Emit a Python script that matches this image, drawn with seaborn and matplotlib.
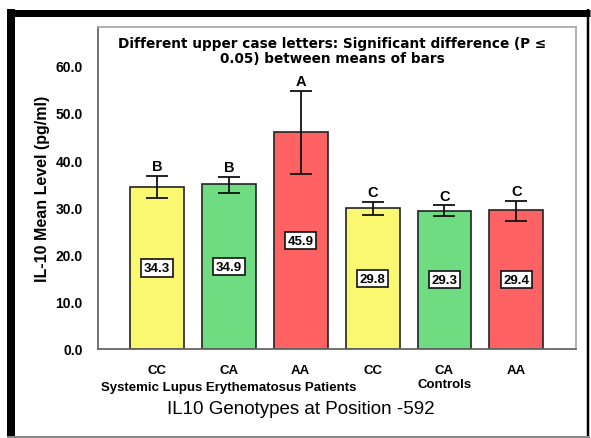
import matplotlib
matplotlib.use("Agg")
import matplotlib.pyplot as plt
import seaborn as sns
import pandas as pd
import numpy as np
from matplotlib.lines import Line2D

# ---- data ----
genotypes = ["CC", "CA", "AA", "CC", "CA", "AA"]
groups = ["Systemic Lupus Erythematosus Patients", "Controls"]
means = [34.3, 34.9, 45.9, 29.8, 29.3, 29.4]
err_low = [31.9, 33.1, 37.0, 28.4, 28.1, 27.2]
err_high = [36.7, 36.5, 54.7, 31.1, 30.4, 31.4]
letters = ["B", "B", "A", "C", "C", "C"]
yticks = [0.0, 10.0, 20.0, 30.0, 40.0, 50.0, 60.0]
colors = ["#FAF870", "#70DC82", "#FF6262", "#FAF870", "#70DC82", "#FF6262"]

sns.set_style("white")
plt.rcParams['font.family'] = ['Liberation Sans', 'DejaVu Sans']
plt.rcParams['text.color'] = 'black'
plt.rcParams['axes.labelcolor'] = 'black'
plt.rcParams['xtick.labelcolor'] = 'black'
plt.rcParams['ytick.labelcolor'] = 'black'

W, H = 591, 439
fig = plt.figure(figsize=(W / 100, H / 100), dpi=100)
ax = fig.add_axes([98 / W, 1 - 350 / H, (576 - 98) / W, (350 - 28) / H])

df = pd.DataFrame({"pos": [str(i) for i in range(len(means))], "mean": means})
sns.barplot(data=df, x="pos", y="mean", hue="pos", palette=colors, legend=False,
            width=0.75, edgecolor="#222222", linewidth=1.2, ax=ax, errorbar=None,
            saturation=1)

x = np.arange(len(means))
m = np.array(means)
lo = m - np.array(err_low)
hi = np.array(err_high) - m
ax.errorbar(x, m, yerr=[lo, hi], fmt="none", ecolor="#111111", elinewidth=1.3,
            capsize=8, capthick=1.3, zorder=5)

for xi, mv, eh, let in zip(x, means, err_high, letters):
    ax.text(xi, eh + 0.6, let, ha="center", va="bottom", fontsize=10.5,
            fontweight="bold", color="black", zorder=6)
    ax.text(xi, mv / 2, f"{mv:.1f}", ha="center", va="center", fontsize=9.5,
            fontweight="bold", color="black", zorder=6,
            bbox=dict(boxstyle="square,pad=0.2", facecolor="white",
                      edgecolor="#111111", linewidth=1.2))

ax.set_xlim(-0.82, 5.83)
ax.set_ylim(0, 68.2)
ax.set_yticks(yticks)
ax.set_yticklabels([f"{v:.1f}" for v in yticks], fontsize=10, fontweight="bold")
ax.set_xticks(x)
ax.set_xticklabels(genotypes, fontsize=9.5, fontweight="bold")
ax.tick_params(axis="y", direction="out", length=9, width=1.2, color="#666666", pad=2)
ax.tick_params(axis="x", direction="out", length=6, width=1.2, color="#666666", pad=5)
ax.set_xlabel("")
ax.set_ylabel("IL-10 Mean Level (pg/ml)", fontsize=11.5, fontweight="bold")
ax.yaxis.set_label_coords((50 - 98) / (576 - 98), 0.5)

for side in ["left", "bottom"]:
    ax.spines[side].set_color("#666666")
    ax.spines[side].set_linewidth(1.3)
for side in ["top", "right"]:
    ax.spines[side].set_color("#aaaaaa")
    ax.spines[side].set_linewidth(1.3)

ax.text(0.49, 1 - 9 / 322,
        "Different upper case letters: Significant difference (P \u2264\n0.05) between means of bars",
        transform=ax.transAxes, ha="center", va="top", fontsize=9.8,
        fontweight="bold", linespacing=1.1, family=['DejaVu Sans'])

trans = ax.get_xaxis_transform()
ax.text(1, -(388 - 350) / 322, groups[0], transform=trans, ha="center", va="center",
        fontsize=9.5, fontweight="bold")
ax.text(4, -(385 - 350) / 322, groups[1], transform=trans, ha="center", va="center",
        fontsize=9.5, fontweight="bold")

fig.text(301 / W, 1 - 410 / H, "IL10 Genotypes at Position -592", ha="center",
         va="center", fontsize=13.5)

# outer frame
def px_line(x0, y0, x1, y1, lw_px, color):
    fig.add_artist(Line2D([x0 / W, x1 / W], [1 - y0 / H, 1 - y1 / H],
                          transform=fig.transFigure, color=color,
                          linewidth=lw_px * 0.72, solid_capstyle="butt"))

px_line(7, 13.5, 590, 13.5, 7, "black")
px_line(11, 10, 11, 439, 8, "black")
px_line(588, 10, 588, 439, 2.5, "black")
px_line(7, 438, 590, 438, 2, "#888888")

fig.savefig("out.png", dpi=100)
